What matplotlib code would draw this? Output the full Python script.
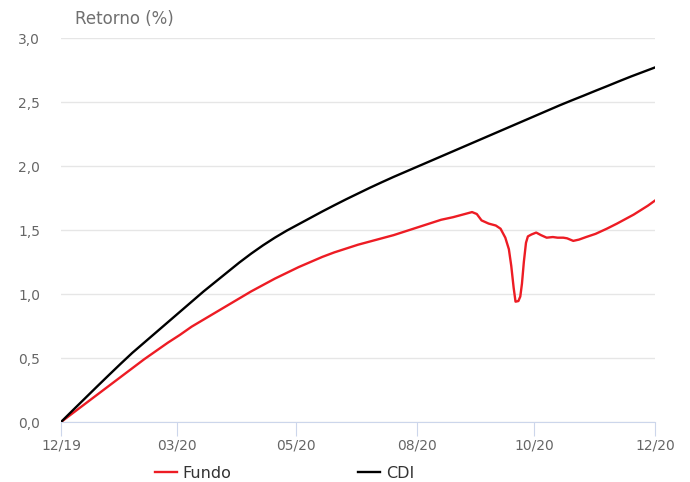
import matplotlib.pyplot as plt
from matplotlib.ticker import FuncFormatter

# x positions are business-day indices from 12/19 to 12/20
tick_pos = [0, 49, 99, 150, 199, 250]
tick_labels = ['12/19', '03/20', '05/20', '08/20', '10/20', '12/20']

cdi_x = [0, 5, 10, 15, 20, 25, 30, 35, 40, 45, 50, 55, 60, 65, 70, 75, 80,
         85, 90, 95, 100, 105, 110, 115, 120, 125, 130, 135, 140, 145, 150,
         155, 160, 165, 170, 175, 180, 185, 190, 195, 200, 205, 210, 215,
         220, 225, 230, 235, 240, 245, 250]
cdi = [0.0, 0.092, 0.183, 0.274, 0.364, 0.453, 0.54, 0.62, 0.70, 0.78,
       0.86, 0.94, 1.02, 1.095, 1.17, 1.245, 1.315, 1.38, 1.44, 1.495, 1.545,
       1.595, 1.645, 1.693, 1.74, 1.785, 1.83, 1.873, 1.915, 1.955, 1.995,
       2.035, 2.075, 2.115, 2.155, 2.195, 2.235, 2.275, 2.315, 2.355, 2.395,
       2.435, 2.475, 2.513, 2.55, 2.588, 2.625, 2.663, 2.70, 2.735, 2.77]

fundo_x = [0, 5, 10, 15, 20, 25, 30, 35, 40, 45, 50, 55, 60, 65, 70, 75,
           80, 85, 90, 95, 100, 105, 110, 115, 120, 125, 130, 135, 140, 145,
           150, 155, 160, 165, 170, 173, 175, 177, 180, 183, 185, 187, 188.5,
           189.5, 190.5, 191.3, 192.5, 193.3, 194, 194.8, 195.7, 196.5, 198,
           200, 202, 204.4, 207, 209, 211.4, 213, 215.6, 218, 221, 225,
           229.7, 234, 238, 241, 244, 247, 250]
fundo = [0.0, 0.07, 0.14, 0.21, 0.28, 0.35, 0.42, 0.49, 0.555, 0.62, 0.68,
         0.745, 0.80, 0.855, 0.91, 0.965, 1.02, 1.07, 1.12, 1.165, 1.21,
         1.25, 1.29, 1.325, 1.355, 1.385, 1.41, 1.435, 1.46, 1.49, 1.52,
         1.55, 1.58, 1.60, 1.625, 1.64, 1.625, 1.575, 1.55, 1.535, 1.51,
         1.44, 1.35, 1.22, 1.05, 0.94, 0.945, 0.98, 1.08, 1.25, 1.40, 1.45,
         1.465, 1.48, 1.46, 1.44, 1.445, 1.44, 1.44, 1.435, 1.415, 1.425,
         1.445, 1.47, 1.51, 1.55, 1.59, 1.62, 1.655, 1.69, 1.73]

fig = plt.figure(figsize=(6.9, 4.82), dpi=100)
ax = fig.add_axes([61 / 690, 1 - 422 / 482, 594 / 690, 384 / 482])

# data
ax.plot(fundo_x, fundo, color='#ed1c24', lw=1.7, label='Fundo', zorder=3,
        solid_joinstyle='round')
ax.plot(cdi_x, cdi, color='black', lw=1.7, label='CDI', zorder=3,
        solid_joinstyle='round')

# appearance
ax.set_xlim(0, 250)
ax.set_ylim(0, 3.0)
ax.set_yticks([0, 0.5, 1.0, 1.5, 2.0, 2.5, 3.0])
ax.yaxis.set_major_formatter(FuncFormatter(lambda v, p: f'{v:.1f}'.replace('.', ',')))
ax.set_xticks(tick_pos)
ax.set_xticklabels(tick_labels)
ax.yaxis.grid(color='#e6e6e6', lw=1)
ax.set_axisbelow(True)
for side in ['left', 'right', 'top']:
    ax.spines[side].set_visible(False)
ax.spines['bottom'].set_color('#ccd6eb')
ax.tick_params(axis='x', length=10, color='#ccd6eb', labelcolor='#666666',
               labelsize=10, pad=2)
ax.tick_params(axis='y', length=0, labelcolor='#666666', labelsize=10, pad=15)

fig.text(75 / 690, 1 - 19 / 482, 'Retorno (%)', ha='left', va='center',
         color='#707070', fontsize=12)

fig.legend(loc='center', bbox_to_anchor=(0.412, 1 - 473 / 482), ncol=2,
           frameon=False, fontsize=11.5, handlelength=1.375, handletextpad=0.375,
           columnspacing=7.9, labelcolor='#333333')

fig.savefig('out.png', dpi=100)
